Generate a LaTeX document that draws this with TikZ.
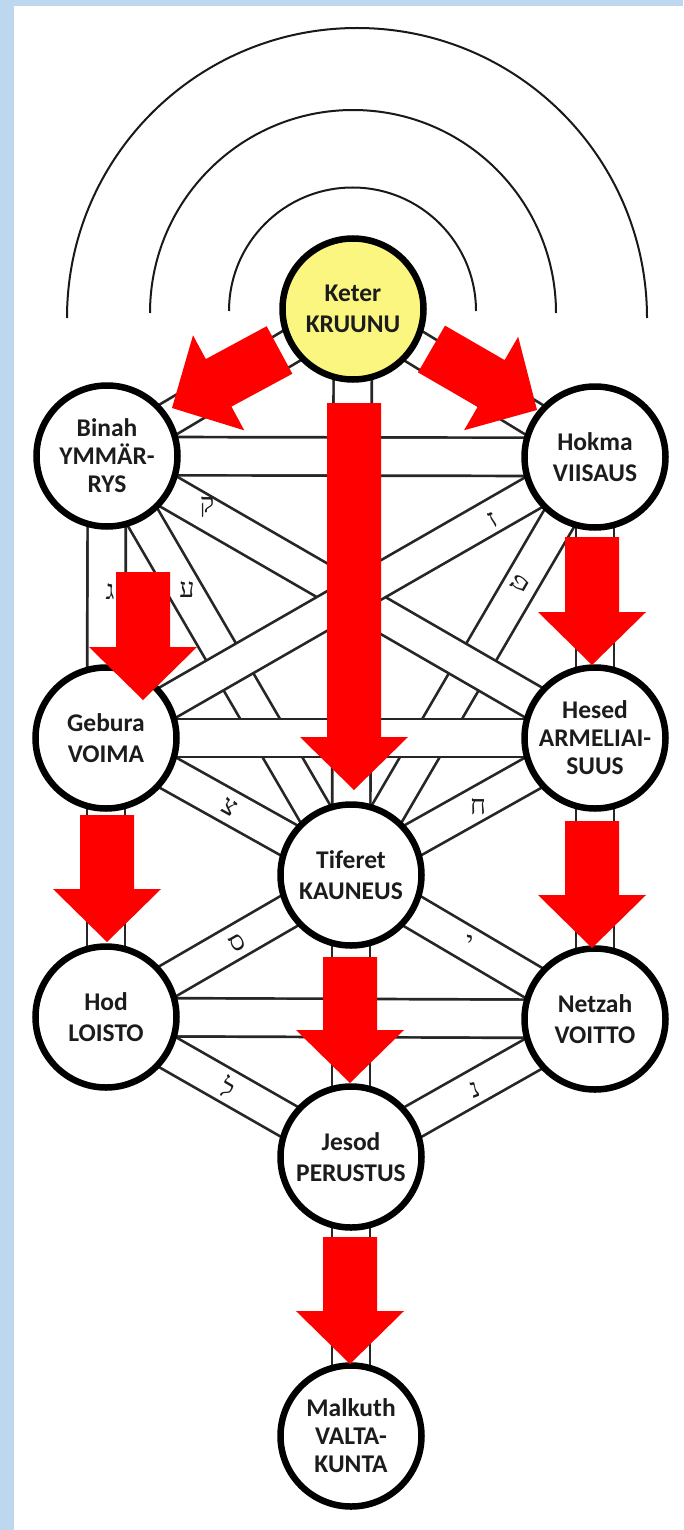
\documentclass[tikz,border=0pt]{standalone}
\usepackage{fontspec}
\setmainfont{Carlito}
\newfontfamily\heb[Script=Hebrew]{Liberation Serif}
\usetikzlibrary{calc,backgrounds}
\definecolor{frameblue}{RGB}{189,215,238}
\definecolor{keteryellow}{RGB}{250,246,128}
\definecolor{inkgray}{RGB}{28,28,28}
\definecolor{arrowred}{RGB}{255,0,0}
\newcommand\redarrow[2]{%
  \coordinate (#1-base) at ($(#2)!53pt!(#1)$);
  \fill[arrowred] ($(#1)!27pt!90:(#2)$) -- ($(#1-base)!27pt!90:(#2)$) -- ($(#1-base)!54pt!90:(#2)$) -- (#2) -- ($(#1-base)!54pt!-90:(#2)$) -- ($(#1-base)!27pt!-90:(#2)$) -- ($(#1)!27pt!-90:(#2)$) -- cycle;}
\begin{document}
\begin{tikzpicture}[x=1pt,y=-1pt,
  sefira/.style={circle, draw=black, line width=6.5pt, fill=white, minimum size=141pt, inner sep=0pt, align=center, text=inkgray, font=\fontsize{25.5}{31}\selectfont\bfseries},
  three/.style={font=\fontsize{25.5}{28}\selectfont\bfseries},
  chan/.style={line width=2.7pt, draw=black!85, double=white, double distance=35.5pt},
  dchan/.style={chan, double distance=31.5pt},
  arcline/.style={line width=2pt, draw=black!90},
  hebl/.style={font=\heb\fontsize{27}{27}\selectfont, text=inkgray, inner sep=0pt}]
\useasboundingbox (0,0) rectangle (683,1530);
% arcs
\draw[arcline] (229,311) arc[start angle=180, end angle=360, radius=123.5];
\draw[arcline] (150,313) arc[start angle=180, end angle=360, radius=203];
\draw[arcline] (67,318) arc[start angle=180, end angle=360, radius=290];
% sefirot
\node[sefira, fill=keteryellow] (keter) at (353,309) {Keter\\KRUUNU};
\node[sefira, three] (binah) at (107,456) {Binah\\YMMÄR-\\RYS};
\node[sefira] (hokma) at (595,457) {Hokma\\VIISAUS};
\node[sefira] (gebura) at (106,738) {Gebura\\VOIMA};
\node[sefira, three] (hesed) at (595,738) {Hesed\\ARMELIAI-\\SUUS};
\node[sefira] (tiferet) at (351,875) {Tiferet\\KAUNEUS};
\node[sefira] (hod) at (106,1017) {Hod\\LOISTO};
\node[sefira] (netzah) at (595,1019) {Netzah\\VOITTO};
\node[sefira] (jesod) at (351,1157) {Jesod\\PERUSTUS};
\node[sefira, three] (malkuth) at (351,1436) {Malkuth\\VALTA-\\KUNTA};
% background and paths
\begin{scope}[on background layer]
\fill[white] (0,0) rectangle (683,1530);
\fill[frameblue] (0,0) rectangle (14,1530);
\fill[frameblue] (0,0) rectangle (683,6);
\draw[dchan] (keter.center) -- (binah.center);
\draw[dchan] (keter.center) -- (hokma.center);
\draw[dchan] (binah.center) -- (tiferet.center);
\draw[dchan] (hokma.center) -- (tiferet.center);
\draw[dchan] (binah.center) -- (hesed.center);
\draw[dchan] (hokma.center) -- (gebura.center);
\draw[dchan] (gebura.center) -- (tiferet.center);
\draw[dchan] (hesed.center) -- (tiferet.center);
\draw[dchan] (hod.center) -- (tiferet.center);
\draw[dchan] (netzah.center) -- (tiferet.center);
\draw[dchan] (hod.center) -- (jesod.center);
\draw[dchan] (netzah.center) -- (jesod.center);
\draw[chan] (keter.center) -- (tiferet.center);
\draw[chan] (binah.center) -- (gebura.center);
\draw[chan] (hokma.center) -- (hesed.center);
\draw[chan] (gebura.center) -- (hod.center);
\draw[chan] (hesed.center) -- (netzah.center);
\draw[chan] (tiferet.center) -- (jesod.center);
\draw[chan] (jesod.center) -- (malkuth.center);
\draw[chan] (binah.center) -- (hokma.center);
\draw[chan] (gebura.center) -- (hesed.center);
\draw[chan] (hod.center) -- (netzah.center);
\end{scope}
% letters
\node[hebl] (lqof) at (207,507) {ק};
\node[hebl] (layin) at (187,590) {ע};
\node[hebl] (lgimel) at (110,592) {ג};
\node[hebl, rotate=30] (lzayin) at (493,520) {ז};
\node[hebl, rotate=60] (ltet) at (520,583) {ט};
\node[hebl, rotate=-29] (ltsadi) at (230,807) {צ};
\node[hebl] (lhet) at (478,807) {ח};
\node[hebl, rotate=30] (lsamekh) at (237,943) {ס};
\node[hebl] (lyod) at (470,943) {י};
\node[hebl, rotate=-30] (llamed) at (228,1087) {ל};
\node[hebl, rotate=20] (lnun) at (475,1090) {נ};
% red arrows
\coordinate (a1s) at (279.5,350); \coordinate (a1e) at (172,408);
\coordinate (a2s) at (431.5,349); \coordinate (a2e) at (537,410);
\coordinate (a3s) at (354,403);   \coordinate (a3e) at (354,790);
\coordinate (a4s) at (143,572);   \coordinate (a4e) at (143,700);
\coordinate (a5s) at (592,537);   \coordinate (a5e) at (592,665);
\coordinate (a6s) at (107,815);   \coordinate (a6e) at (107,942);
\coordinate (a7s) at (592,821);   \coordinate (a7e) at (592,948);
\coordinate (a8s) at (350,957);   \coordinate (a8e) at (350,1083);
\coordinate (a9s) at (350,1237);  \coordinate (a9e) at (350,1364);
\redarrow{a1s}{a1e}
\redarrow{a2s}{a2e}
\redarrow{a3s}{a3e}
\redarrow{a4s}{a4e}
\redarrow{a5s}{a5e}
\redarrow{a6s}{a6e}
\redarrow{a7s}{a7e}
\redarrow{a8s}{a8e}
\redarrow{a9s}{a9e}
\end{tikzpicture}
\end{document}
